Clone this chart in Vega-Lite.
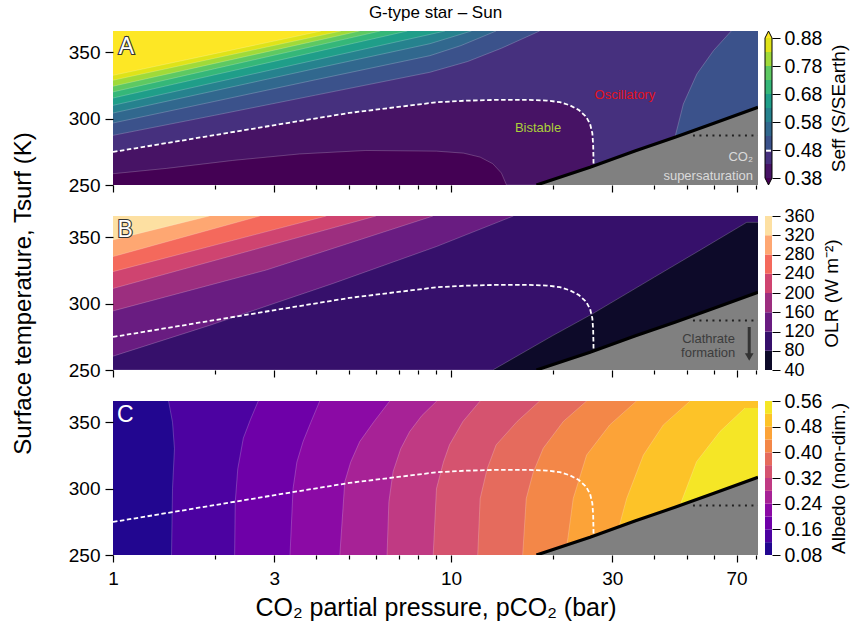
{
"$schema": "https://vega.github.io/schema/vega-lite/v6.json",
"padding": {"left": 11, "top": 4, "right": 5, "bottom": 5},
"background": "white",
"config": {
  "font": "Liberation Sans",
  "view": {"stroke": null},
  "axis": {"grid": false, "domain": false, "labelColor": "black", "titleColor": "black", "tickColor": "black", "labelFont": "Liberation Sans", "titleFont": "Liberation Sans", "titleFontWeight": "normal"},
  "title": {"font": "Liberation Sans", "fontWeight": "normal", "color": "black"}
},
"datasets": {
  "isoA": [
    {"lev":0.33,"p":1,"T":250},{"lev":0.33,"p":81,"T":250},
    {"lev":0.38,"p":1,"T":258.5},{"lev":0.38,"p":1.44,"T":262.5},{"lev":0.38,"p":2.26,"T":268.5},{"lev":0.38,"p":3.57,"T":273.4},{"lev":0.38,"p":5.6,"T":276},{"lev":0.38,"p":9.06,"T":275.5},{"lev":0.38,"p":10.9,"T":274},{"lev":0.38,"p":12.2,"T":271},{"lev":0.38,"p":13.3,"T":266},{"lev":0.38,"p":14.1,"T":259},{"lev":0.38,"p":14.6,"T":250},{"lev":0.38,"p":81,"T":250},
    {"lev":0.43,"p":1,"T":274.9},{"lev":0.43,"p":1.5,"T":282.3},{"lev":0.43,"p":2,"T":287.6},{"lev":0.43,"p":3.16,"T":296},{"lev":0.43,"p":5,"T":304.3},{"lev":0.43,"p":7.08,"T":309},{"lev":0.43,"p":9.06,"T":312.3},{"lev":0.43,"p":11,"T":313.5},{"lev":0.43,"p":13.6,"T":314.1},{"lev":0.43,"p":17,"T":314.1},{"lev":0.43,"p":19.2,"T":313.6},{"lev":0.43,"p":21,"T":312.4},{"lev":0.43,"p":22.5,"T":310},{"lev":0.43,"p":23.9,"T":306.5},{"lev":0.43,"p":25.1,"T":301.5},{"lev":0.43,"p":25.8,"T":296},{"lev":0.43,"p":26.2,"T":289},{"lev":0.43,"p":26.35,"T":280},{"lev":0.43,"p":26.4,"T":270},{"lev":0.43,"p":26.45,"T":250},{"lev":0.43,"p":81,"T":250},
    {"lev":0.48,"p":1,"T":287.4},{"lev":0.48,"p":2,"T":302.5},{"lev":0.48,"p":3.98,"T":317.7},{"lev":0.48,"p":8.66,"T":334.9},{"lev":0.48,"p":11.2,"T":343},{"lev":0.48,"p":14.1,"T":353},{"lev":0.48,"p":18.3,"T":366},
    {"lev":0.53,"p":1,"T":296.7},{"lev":0.53,"p":2,"T":313},{"lev":0.53,"p":3.98,"T":329.3},{"lev":0.53,"p":8.66,"T":347.4},{"lev":0.53,"p":10.7,"T":355},{"lev":0.53,"p":13.6,"T":366},
    {"lev":0.58,"p":1,"T":304.2},{"lev":0.58,"p":2,"T":321},{"lev":0.58,"p":3.98,"T":337.8},{"lev":0.58,"p":8.66,"T":356.4},{"lev":0.58,"p":11.5,"T":366},
    {"lev":0.63,"p":1,"T":310},{"lev":0.63,"p":2,"T":327.2},{"lev":0.63,"p":3.98,"T":344.2},{"lev":0.63,"p":8.66,"T":363.4},{"lev":0.63,"p":9.6,"T":366},
    {"lev":0.68,"p":1,"T":315.5},{"lev":0.68,"p":2,"T":333},{"lev":0.68,"p":4,"T":350.4},{"lev":0.68,"p":7.43,"T":366},
    {"lev":0.73,"p":1,"T":320.1},{"lev":0.73,"p":2,"T":337.6},{"lev":0.73,"p":4,"T":355},{"lev":0.73,"p":6.18,"T":366},
    {"lev":0.78,"p":1,"T":324.4},{"lev":0.78,"p":2,"T":341.6},{"lev":0.78,"p":4,"T":358.7},{"lev":0.78,"p":5.37,"T":366},
    {"lev":0.83,"p":1,"T":328.9},{"lev":0.83,"p":2,"T":345.5},{"lev":0.83,"p":4.73,"T":366},
    {"lev":0.88,"p":1,"T":332.6},{"lev":0.88,"p":2,"T":348.9},{"lev":0.88,"p":4.13,"T":366}
  ],
  "isoAR": [
    {"lev":0.48,"T":250,"p":43},{"lev":0.48,"T":270,"p":44.5},{"lev":0.48,"T":285.9,"p":46},{"lev":0.48,"T":311,"p":48.7},{"lev":0.48,"T":333.6,"p":53.4},{"lev":0.48,"T":351.2,"p":59.8},{"lev":0.48,"T":366,"p":67.5}
  ],
  "isoB": [
    {"lev":40,"p":1,"T":250},{"lev":40,"p":81,"T":250},
    {"lev":80,"p":1,"T":250},{"lev":80,"p":13.3,"T":250},{"lev":80,"p":20,"T":275.9},{"lev":80,"p":26.3,"T":292.5},{"lev":80,"p":40,"T":320},{"lev":80,"p":55,"T":340.8},{"lev":80,"p":75,"T":361.2},{"lev":80,"p":81,"T":361.2},
    {"lev":120,"p":1,"T":260.4},{"lev":120,"p":1.93,"T":283.6},{"lev":120,"p":4.48,"T":315.2},{"lev":120,"p":9.06,"T":343},{"lev":120,"p":15.3,"T":366},
    {"lev":160,"p":1,"T":294.5},{"lev":160,"p":2.84,"T":325.3},{"lev":160,"p":8.85,"T":366},
    {"lev":200,"p":1,"T":311.4},{"lev":200,"p":6,"T":366},
    {"lev":240,"p":1,"T":324.1},{"lev":240,"p":4.28,"T":366},
    {"lev":280,"p":1,"T":335.4},{"lev":280,"p":2.72,"T":366},
    {"lev":320,"p":1,"T":348},{"lev":320,"p":1.93,"T":366}
  ],
  "isoC": [
    {"lev":0.08,"T":250,"p":1},{"lev":0.08,"T":366,"p":1},
    {"lev":0.12,"T":250,"p":1.49},{"lev":0.12,"T":300,"p":1.5},{"lev":0.12,"T":330,"p":1.52},{"lev":0.12,"T":350,"p":1.5},{"lev":0.12,"T":366,"p":1.46},
    {"lev":0.16,"T":250,"p":2.29},{"lev":0.16,"T":290,"p":2.3},{"lev":0.16,"T":315,"p":2.34},{"lev":0.16,"T":338,"p":2.43},{"lev":0.16,"T":352,"p":2.55},{"lev":0.16,"T":366,"p":2.69},
    {"lev":0.2,"T":250,"p":3.34},{"lev":0.2,"T":300,"p":3.41},{"lev":0.2,"T":320,"p":3.5},{"lev":0.2,"T":335.4,"p":3.65},{"lev":0.2,"T":350,"p":3.85},{"lev":0.2,"T":366,"p":4.09},
    {"lev":0.24,"T":250,"p":4.69},{"lev":0.24,"T":305,"p":4.85},{"lev":0.24,"T":320,"p":5.05},{"lev":0.24,"T":335.4,"p":5.37},{"lev":0.24,"T":350,"p":5.9},{"lev":0.24,"T":366,"p":6.59},
    {"lev":0.28,"T":250,"p":6.47},{"lev":0.28,"T":290,"p":6.55},{"lev":0.28,"T":312.7,"p":6.74},{"lev":0.28,"T":330,"p":7.1},{"lev":0.28,"T":343,"p":7.55},{"lev":0.28,"T":355,"p":8.2},{"lev":0.28,"T":366,"p":9.08},
    {"lev":0.32,"T":250,"p":8.86},{"lev":0.32,"T":300,"p":9.06},{"lev":0.32,"T":320,"p":9.5},{"lev":0.32,"T":333,"p":9.9},{"lev":0.32,"T":350.6,"p":10.85},{"lev":0.32,"T":366,"p":12.2},
    {"lev":0.36,"T":250,"p":12},{"lev":0.36,"T":292.5,"p":12.2},{"lev":0.36,"T":315,"p":12.8},{"lev":0.36,"T":332.9,"p":13.6},{"lev":0.36,"T":350.6,"p":15.7},{"lev":0.36,"T":366,"p":18.3},
    {"lev":0.4,"T":250,"p":16.3},{"lev":0.4,"T":292.5,"p":16.7},{"lev":0.4,"T":312,"p":17.5},{"lev":0.4,"T":330.4,"p":18.75},{"lev":0.4,"T":350.6,"p":21.5},{"lev":0.4,"T":366,"p":25.2},
    {"lev":0.44,"T":250,"p":21.8},{"lev":0.44,"T":263.4,"p":22.2},{"lev":0.44,"T":292.5,"p":23},{"lev":0.44,"T":325.3,"p":25.2},{"lev":0.44,"T":348,"p":29.5},{"lev":0.44,"T":366,"p":35.4},
    {"lev":0.48,"T":250,"p":30.5},{"lev":0.48,"T":273.5,"p":31.6},{"lev":0.48,"T":292.5,"p":33.1},{"lev":0.48,"T":325.3,"p":37.1},{"lev":0.48,"T":348,"p":42.5},{"lev":0.48,"T":366,"p":51},
    {"lev":0.52,"T":250,"p":45},{"lev":0.52,"T":287.4,"p":47.6},{"lev":0.52,"T":320.3,"p":53.3},{"lev":0.52,"T":343,"p":62.5},{"lev":0.52,"T":360.7,"p":74.1}
  ],
  "sat": [{"p":17.9,"T":250},{"p":25.8,"T":263.3},{"p":35,"T":275.6},{"p":46,"T":285.9},{"p":60,"T":296.5},{"p":81,"T":308.5}],
  "dot": [{"p":52,"T":287.3},{"p":81,"T":287.3}],
  "dash": [{"p":1,"T":274.9},{"p":1.5,"T":282.3},{"p":2,"T":287.6},{"p":3.16,"T":296},{"p":5,"T":304.3},{"p":7.08,"T":309},{"p":9.06,"T":312.3},{"p":11,"T":313.5},{"p":13.6,"T":314.1},{"p":17,"T":314.1},{"p":19.2,"T":313.6},{"p":21,"T":312.4},{"p":22.5,"T":310},{"p":23.9,"T":306.5},{"p":25.1,"T":301.5},{"p":25.8,"T":296},{"p":26.2,"T":289},{"p":26.35,"T":280},{"p":26.4,"T":270},{"p":26.42,"T":264.5}],
  "notes": [
    {"label":"Bistable","p":18.1,"T":292.9},
    {"label":"Oscillatory","p":32.7,"T":318},
    {"label":"CO₂","p":78.3,"T":270.9},
    {"label":"supersaturation","p":78.3,"T":257},
    {"label":"Clathrate","p":69.2,"T":273.5},
    {"label":"formation","p":69.4,"T":262.9},
    {"label":"A","p":1.096,"T":353.7},
    {"label":"B","p":1.087,"T":355.4},
    {"label":"C","p":1.087,"T":355.8}
  ],
  "arrow": [{"p":76.3,"T":282.4,"T2":261}],
  "arrowhead": [{"p":76.3,"T":259.8}],
  "cbA": [{"lev":0.38,"v":0.38,"v2":0.43},{"lev":0.43,"v":0.43,"v2":0.48},{"lev":0.48,"v":0.48,"v2":0.53},{"lev":0.53,"v":0.53,"v2":0.58},{"lev":0.58,"v":0.58,"v2":0.63},{"lev":0.63,"v":0.63,"v2":0.68},{"lev":0.68,"v":0.68,"v2":0.73},{"lev":0.73,"v":0.73,"v2":0.78},{"lev":0.78,"v":0.78,"v2":0.83},{"lev":0.83,"v":0.83,"v2":0.88}],
  "cbAtri": [{"lev":0.33,"cx":0,"v":0.38,"v2":0.38},{"lev":0.33,"cx":0.5,"v":0.355,"v2":0.38},{"lev":0.33,"cx":1,"v":0.38,"v2":0.38},{"lev":0.88,"cx":0,"v":0.88,"v2":0.88},{"lev":0.88,"cx":0.5,"v":0.905,"v2":0.88},{"lev":0.88,"cx":1,"v":0.88,"v2":0.88}],
  "cbAout": [{"i":0,"cx":0,"v":0.38},{"i":1,"cx":0,"v":0.88},{"i":2,"cx":0.5,"v":0.905},{"i":3,"cx":1,"v":0.88},{"i":4,"cx":1,"v":0.38},{"i":5,"cx":0.5,"v":0.355},{"i":6,"cx":0,"v":0.38}],
  "cbB": [{"lev":40,"v":40,"v2":80},{"lev":80,"v":80,"v2":120},{"lev":120,"v":120,"v2":160},{"lev":160,"v":160,"v2":200},{"lev":200,"v":200,"v2":240},{"lev":240,"v":240,"v2":280},{"lev":280,"v":280,"v2":320},{"lev":320,"v":320,"v2":360}],
  "cbC": [{"lev":0.08,"v":0.08,"v2":0.12},{"lev":0.12,"v":0.12,"v2":0.16},{"lev":0.16,"v":0.16,"v2":0.2},{"lev":0.2,"v":0.2,"v2":0.24},{"lev":0.24,"v":0.24,"v2":0.28},{"lev":0.28,"v":0.28,"v2":0.32},{"lev":0.32,"v":0.32,"v2":0.36},{"lev":0.36,"v":0.36,"v2":0.4},{"lev":0.4,"v":0.4,"v2":0.44},{"lev":0.44,"v":0.44,"v2":0.48},{"lev":0.48,"v":0.48,"v2":0.52},{"lev":0.52,"v":0.52,"v2":0.56}]
},
"columns": 2,
"spacing": {"row": 31, "column": 7},
"bounds": "flush",
"resolve": {"scale": {"x": "independent", "y": "independent", "color": "independent"}},
"concat": [
  {"width": 645, "height": 154,
   "title": {"text": "G-type star – Sun", "fontSize": 17, "offset": 9},
   "encoding": {
     "x": {"field": "p", "type": "quantitative", "stack": null, "scale": {"type": "log", "domain": [1, 81], "nice": false},
           "axis": {"values": [1,2,3,4,5,6,7,8,9,10,20,30,40,50,60,70,80], "labels": false, "title": null, "tickWidth": 1.2, "tickSize": {"condition": {"test": "datum.value==1||datum.value==3||datum.value==10||datum.value==30||datum.value==70", "value": 7}, "value": 4}, "zindex": 1}},
     "y": {"field": "T", "type": "quantitative", "stack": null, "scale": {"domain": [250, 366], "nice": false, "zero": false},
           "axis": {"values": [250,300,350], "tickSize": 8, "tickWidth": 1.2, "labelFontSize": 19, "labelPadding": 5, "title": null, "zindex": 1}},
     "color": {"field": "lev", "type": "ordinal", "legend": null, "scale": {"domain": [0.33,0.38,0.43,0.48,0.53,0.58,0.63,0.68,0.73,0.78,0.83,0.88], "range": ["#440154","#471365","#46307e","#3b528b","#31688e","#26828e","#1f9e89","#35b779","#5ec962","#a0da39","#dfe318","#fde725"]}}
   },
   "layer": [
     {"data":{"name":"isoA"},"transform":[{"filter":"datum.lev==0.33"}],"mark":{"type":"area","clip":true},"encoding":{"y2":{"datum":366}}},
     {"data":{"name":"isoA"},"transform":[{"filter":"datum.lev==0.38"}],"mark":{"type":"area","clip":true},"encoding":{"y2":{"datum":366}}},
     {"data":{"name":"isoA"},"transform":[{"filter":"datum.lev==0.43"}],"mark":{"type":"area","clip":true},"encoding":{"y2":{"datum":366}}},
     {"data":{"name":"isoA"},"transform":[{"filter":"datum.lev==0.48"}],"mark":{"type":"area","clip":true},"encoding":{"y2":{"datum":366}}},
     {"data":{"name":"isoAR"},"mark":{"type":"area","orient":"horizontal","clip":true},"encoding":{"x2":{"datum":81}}},
     {"data":{"name":"isoA"},"transform":[{"filter":"datum.lev==0.53"}],"mark":{"type":"area","clip":true},"encoding":{"y2":{"datum":366}}},
     {"data":{"name":"isoA"},"transform":[{"filter":"datum.lev==0.58"}],"mark":{"type":"area","clip":true},"encoding":{"y2":{"datum":366}}},
     {"data":{"name":"isoA"},"transform":[{"filter":"datum.lev==0.63"}],"mark":{"type":"area","clip":true},"encoding":{"y2":{"datum":366}}},
     {"data":{"name":"isoA"},"transform":[{"filter":"datum.lev==0.68"}],"mark":{"type":"area","clip":true},"encoding":{"y2":{"datum":366}}},
     {"data":{"name":"isoA"},"transform":[{"filter":"datum.lev==0.73"}],"mark":{"type":"area","clip":true},"encoding":{"y2":{"datum":366}}},
     {"data":{"name":"isoA"},"transform":[{"filter":"datum.lev==0.78"}],"mark":{"type":"area","clip":true},"encoding":{"y2":{"datum":366}}},
     {"data":{"name":"isoA"},"transform":[{"filter":"datum.lev==0.83"}],"mark":{"type":"area","clip":true},"encoding":{"y2":{"datum":366}}},
     {"data":{"name":"isoA"},"transform":[{"filter":"datum.lev==0.88"}],"mark":{"type":"area","clip":true},"encoding":{"y2":{"datum":366}}},
     {"data":{"name":"isoA"},"transform":[{"filter":"datum.lev>0.34 && datum.lev!=0.43"}],"mark":{"type":"line","strokeWidth":0.7,"opacity":0.3,"clip":true},"encoding":{"detail":{"field":"lev"},"color":{"value":"white"}}},
     {"data":{"name":"isoAR"},"mark":{"type":"line","strokeWidth":0.7,"opacity":0.3,"clip":true},"encoding":{"order":{"field":"T"},"color":{"value":"white"}}},
     {"data":{"name":"sat"},"mark":{"type":"area","clip":true},"encoding":{"y2":{"datum":250},"color":{"value":"#808080"}}},
     {"data":{"name":"dot"},"mark":{"type":"line","strokeWidth":2,"strokeDash":[2,4.5],"clip":true},"encoding":{"color":{"value":"#222222"}}},
     {"data":{"name":"dash"},"mark":{"type":"line","strokeWidth":1.8,"strokeDash":[4.5,2.5],"clip":true},"encoding":{"color":{"value":"white"}}},
     {"data":{"name":"sat"},"mark":{"type":"line","strokeWidth":3.2,"clip":true},"encoding":{"color":{"value":"black"}}},
     {"data":{"name":"notes"},"transform":[{"filter":"datum.label=='Bistable'"}],"mark":{"type":"text","fontSize":13},"encoding":{"text":{"field":"label"},"color":{"value":"#acd03a"}}},
     {"data":{"name":"notes"},"transform":[{"filter":"datum.label=='Oscillatory'"}],"mark":{"type":"text","fontSize":13},"encoding":{"text":{"field":"label"},"color":{"value":"#e3121b"}}},
     {"data":{"name":"notes"},"transform":[{"filter":"datum.label=='CO₂'||datum.label=='supersaturation'"}],"mark":{"type":"text","fontSize":13,"align":"right"},"encoding":{"text":{"field":"label"},"color":{"value":"#dadada"}}},
     {"data":{"name":"notes"},"transform":[{"filter":"datum.label=='A'"}],"mark":{"type":"text","fontSize":23,"stroke":"#333333","strokeWidth":2.2,"align":"center","baseline":"middle"},"encoding":{"text":{"field":"label"},"color":{"value":"#333333"}}},
     {"data":{"name":"notes"},"transform":[{"filter":"datum.label=='A'"}],"mark":{"type":"text","fontSize":23,"align":"center","baseline":"middle"},"encoding":{"text":{"field":"label"},"color":{"value":"white"}}},
     {"data":{"values":[{}]},"mark":{"type":"rect","filled":false,"strokeWidth":1.6},"encoding":{"x":{"datum":1},"x2":{"datum":81},"y":{"datum":250},"y2":{"datum":366},"color":{"value":"black"}}}
   ]},
  {"width": 7, "height": 154,
   "encoding": {
     "y": {"field": "v", "type": "quantitative", "stack": null, "scale": {"domain": [0.355, 0.905], "nice": false, "zero": false},
           "axis": {"orient": "right", "values": [0.38,0.48,0.58,0.68,0.78,0.88], "format": ".2f", "tickSize": 8, "tickWidth": 1, "labelFontSize": 19.5, "labelPadding": 4, "labelOverlap": false, "title": "Seff (S/SEarth)", "titleFontSize": 19, "titleAngle": 270, "titleBaseline": "top", "titlePadding": 8}},
     "color": {"field": "lev", "type": "ordinal", "legend": null, "scale": {"domain": [0.33,0.38,0.43,0.48,0.53,0.58,0.63,0.68,0.73,0.78,0.83,0.88], "range": ["#440154","#471365","#46307e","#3b528b","#31688e","#26828e","#1f9e89","#35b779","#5ec962","#a0da39","#dfe318","#fde725"]}}
   },
   "layer": [
     {"data":{"name":"cbA"},"mark":"rect","encoding":{"x":{"datum":0,"type":"quantitative","scale":{"domain":[0,1]},"axis":null},"x2":{"datum":1},"y2":{"field":"v2"}}},
     {"data":{"name":"cbAtri"},"mark":"area","encoding":{"x":{"field":"cx","type":"quantitative","scale":{"domain":[0,1]},"axis":null},"y2":{"field":"v2"}}},
     {"data":{"values":[{"v":0.4775}]},"mark":{"type":"rule","strokeWidth":2},"encoding":{"x":{"datum":0.15,"type":"quantitative","scale":{"domain":[0,1]},"axis":null},"x2":{"datum":0.85},"color":{"value":"white"}}},
     {"data":{"name":"cbAout"},"mark":{"type":"line","strokeWidth":1},"encoding":{"x":{"field":"cx","type":"quantitative","scale":{"domain":[0,1]},"axis":null},"order":{"field":"i"},"color":{"value":"black"}}}
   ]},
  {"width": 645, "height": 154,
   "encoding": {
     "x": {"field": "p", "type": "quantitative", "stack": null, "scale": {"type": "log", "domain": [1, 81], "nice": false},
           "axis": {"values": [1,2,3,4,5,6,7,8,9,10,20,30,40,50,60,70,80], "labels": false, "title": null, "tickWidth": 1.2, "tickSize": {"condition": {"test": "datum.value==1||datum.value==3||datum.value==10||datum.value==30||datum.value==70", "value": 7}, "value": 4}, "zindex": 1}},
     "y": {"field": "T", "type": "quantitative", "stack": null, "scale": {"domain": [250, 366], "nice": false, "zero": false},
           "axis": {"values": [250,300,350], "tickSize": 8, "tickWidth": 1.2, "labelFontSize": 19, "labelPadding": 5, "title": "Surface temperature, Tsurf (K)", "titleFontSize": 24, "titlePadding": 33, "zindex": 1}},
     "color": {"field": "lev", "type": "ordinal", "legend": null, "scale": {"domain": [40,80,120,160,200,240,280,320], "range": ["#0d0a29","#36106b","#691c81","#9c2e7f","#cf4470","#f4695c","#fea772","#fde0a2"]}}
   },
   "layer": [
     {"data":{"name":"isoB"},"transform":[{"filter":"datum.lev==40"}],"mark":{"type":"area","clip":true},"encoding":{"y2":{"datum":366}}},
     {"data":{"name":"isoB"},"transform":[{"filter":"datum.lev==80"}],"mark":{"type":"area","clip":true},"encoding":{"y2":{"datum":366}}},
     {"data":{"name":"isoB"},"transform":[{"filter":"datum.lev==120"}],"mark":{"type":"area","clip":true},"encoding":{"y2":{"datum":366}}},
     {"data":{"name":"isoB"},"transform":[{"filter":"datum.lev==160"}],"mark":{"type":"area","clip":true},"encoding":{"y2":{"datum":366}}},
     {"data":{"name":"isoB"},"transform":[{"filter":"datum.lev==200"}],"mark":{"type":"area","clip":true},"encoding":{"y2":{"datum":366}}},
     {"data":{"name":"isoB"},"transform":[{"filter":"datum.lev==240"}],"mark":{"type":"area","clip":true},"encoding":{"y2":{"datum":366}}},
     {"data":{"name":"isoB"},"transform":[{"filter":"datum.lev==280"}],"mark":{"type":"area","clip":true},"encoding":{"y2":{"datum":366}}},
     {"data":{"name":"isoB"},"transform":[{"filter":"datum.lev==320"}],"mark":{"type":"area","clip":true},"encoding":{"y2":{"datum":366}}},
     {"data":{"name":"isoB"},"transform":[{"filter":"datum.lev>40"}],"mark":{"type":"line","strokeWidth":0.7,"opacity":0.3,"clip":true},"encoding":{"detail":{"field":"lev"},"color":{"value":"white"}}},
     {"data":{"name":"sat"},"mark":{"type":"area","clip":true},"encoding":{"y2":{"datum":250},"color":{"value":"#808080"}}},
     {"data":{"name":"dot"},"mark":{"type":"line","strokeWidth":2,"strokeDash":[2,4.5],"clip":true},"encoding":{"color":{"value":"#222222"}}},
     {"data":{"name":"dash"},"mark":{"type":"line","strokeWidth":1.8,"strokeDash":[4.5,2.5],"clip":true},"encoding":{"color":{"value":"white"}}},
     {"data":{"name":"sat"},"mark":{"type":"line","strokeWidth":3.2,"clip":true},"encoding":{"color":{"value":"black"}}},
     {"data":{"name":"notes"},"transform":[{"filter":"datum.label=='Clathrate'||datum.label=='formation'"}],"mark":{"type":"text","fontSize":13,"align":"right"},"encoding":{"text":{"field":"label"},"color":{"value":"#3c3c3c"}}},
     {"data":{"name":"arrow"},"mark":{"type":"rule","strokeWidth":3},"encoding":{"y2":{"field":"T2"},"color":{"value":"#333333"}}},
     {"data":{"name":"arrowhead"},"mark":{"type":"point","shape":"triangle-down","filled":true,"size":75,"opacity":1},"encoding":{"color":{"value":"#333333"}}},
     {"data":{"name":"notes"},"transform":[{"filter":"datum.label=='B'"}],"mark":{"type":"text","fontSize":23,"stroke":"#333333","strokeWidth":2.2,"align":"center","baseline":"middle"},"encoding":{"text":{"field":"label"},"color":{"value":"#333333"}}},
     {"data":{"name":"notes"},"transform":[{"filter":"datum.label=='B'"}],"mark":{"type":"text","fontSize":23,"align":"center","baseline":"middle"},"encoding":{"text":{"field":"label"},"color":{"value":"white"}}},
     {"data":{"values":[{}]},"mark":{"type":"rect","filled":false,"strokeWidth":1.6},"encoding":{"x":{"datum":1},"x2":{"datum":81},"y":{"datum":250},"y2":{"datum":366},"color":{"value":"black"}}}
   ]},
  {"width": 7, "height": 154,
   "encoding": {
     "y": {"field": "v", "type": "quantitative", "stack": null, "scale": {"domain": [40, 360], "nice": false, "zero": false},
           "axis": {"orient": "right", "values": [40,80,120,160,200,240,280,320,360], "format": "d", "tickSize": 8, "tickWidth": 1, "labelFontSize": 18, "labelPadding": 4, "labelOverlap": false, "title": "OLR (W m⁻²)", "titleFontSize": 19, "titleAngle": 270, "titleBaseline": "top", "titlePadding": 8}},
     "color": {"field": "lev", "type": "ordinal", "legend": null, "scale": {"domain": [40,80,120,160,200,240,280,320], "range": ["#0d0a29","#36106b","#691c81","#9c2e7f","#cf4470","#f4695c","#fea772","#fde0a2"]}}
   },
   "layer": [
     {"data":{"name":"cbB"},"mark":"rect","encoding":{"x":{"datum":0,"type":"quantitative","scale":{"domain":[0,1]},"axis":null},"x2":{"datum":1},"y2":{"field":"v2"}}},
     {"data":{"values":[{}]},"mark":{"type":"rect","filled":false,"strokeWidth":1},"encoding":{"x":{"datum":0,"type":"quantitative","scale":{"domain":[0,1]},"axis":null},"x2":{"datum":1},"y":{"datum":40},"y2":{"datum":360},"color":{"value":"black"}}}
   ]},
  {"width": 645, "height": 154,
   "encoding": {
     "x": {"field": "p", "type": "quantitative", "stack": null, "scale": {"type": "log", "domain": [1, 81], "nice": false},
           "axis": {"values": [1,2,3,4,5,6,7,8,9,10,20,30,40,50,60,70,80], "format": "d", "labelExpr": "(datum.value==1||datum.value==3||datum.value==10||datum.value==30||datum.value==70) ? datum.label : ''", "labelFontSize": 19, "labelPadding": 7, "labelFlush": false, "labelOverlap": false, "title": "CO₂ partial pressure, pCO₂ (bar)", "titleFontSize": 25, "titlePadding": 7, "tickWidth": 1.2, "tickSize": {"condition": {"test": "datum.value==1||datum.value==3||datum.value==10||datum.value==30||datum.value==70", "value": 7}, "value": 4}, "zindex": 1}},
     "y": {"field": "T", "type": "quantitative", "stack": null, "scale": {"domain": [250, 366], "nice": false, "zero": false},
           "axis": {"values": [250,300,350], "tickSize": 8, "tickWidth": 1.2, "labelFontSize": 19, "labelPadding": 5, "title": null, "zindex": 1}},
     "color": {"field": "lev", "type": "ordinal", "legend": null, "scale": {"domain": [0.08,0.12,0.16,0.2,0.24,0.28,0.32,0.36,0.4,0.44,0.48,0.52], "range": ["#220690","#4c02a1","#6e00a8","#8b0aa5","#a72296","#c03a83","#d5536f","#e56b5d","#f38748","#fca338","#fdc328","#f5e626"]}}
   },
   "layer": [
     {"data":{"name":"isoC"},"transform":[{"filter":"datum.lev==0.08"}],"mark":{"type":"area","orient":"horizontal","clip":true},"encoding":{"x2":{"datum":81}}},
     {"data":{"name":"isoC"},"transform":[{"filter":"datum.lev==0.12"}],"mark":{"type":"area","orient":"horizontal","clip":true},"encoding":{"x2":{"datum":81}}},
     {"data":{"name":"isoC"},"transform":[{"filter":"datum.lev==0.16"}],"mark":{"type":"area","orient":"horizontal","clip":true},"encoding":{"x2":{"datum":81}}},
     {"data":{"name":"isoC"},"transform":[{"filter":"datum.lev==0.2"}],"mark":{"type":"area","orient":"horizontal","clip":true},"encoding":{"x2":{"datum":81}}},
     {"data":{"name":"isoC"},"transform":[{"filter":"datum.lev==0.24"}],"mark":{"type":"area","orient":"horizontal","clip":true},"encoding":{"x2":{"datum":81}}},
     {"data":{"name":"isoC"},"transform":[{"filter":"datum.lev==0.28"}],"mark":{"type":"area","orient":"horizontal","clip":true},"encoding":{"x2":{"datum":81}}},
     {"data":{"name":"isoC"},"transform":[{"filter":"datum.lev==0.32"}],"mark":{"type":"area","orient":"horizontal","clip":true},"encoding":{"x2":{"datum":81}}},
     {"data":{"name":"isoC"},"transform":[{"filter":"datum.lev==0.36"}],"mark":{"type":"area","orient":"horizontal","clip":true},"encoding":{"x2":{"datum":81}}},
     {"data":{"name":"isoC"},"transform":[{"filter":"datum.lev==0.4"}],"mark":{"type":"area","orient":"horizontal","clip":true},"encoding":{"x2":{"datum":81}}},
     {"data":{"name":"isoC"},"transform":[{"filter":"datum.lev==0.44"}],"mark":{"type":"area","orient":"horizontal","clip":true},"encoding":{"x2":{"datum":81}}},
     {"data":{"name":"isoC"},"transform":[{"filter":"datum.lev==0.48"}],"mark":{"type":"area","orient":"horizontal","clip":true},"encoding":{"x2":{"datum":81}}},
     {"data":{"name":"isoC"},"transform":[{"filter":"datum.lev==0.52"}],"mark":{"type":"area","orient":"horizontal","clip":true},"encoding":{"x2":{"datum":81}}},
     {"data":{"name":"isoC"},"transform":[{"filter":"datum.lev>0.09"}],"mark":{"type":"line","strokeWidth":0.7,"opacity":0.3,"clip":true},"encoding":{"detail":{"field":"lev"},"order":{"field":"T"},"color":{"value":"white"}}},
     {"data":{"name":"sat"},"mark":{"type":"area","clip":true},"encoding":{"y2":{"datum":250},"color":{"value":"#808080"}}},
     {"data":{"name":"dot"},"mark":{"type":"line","strokeWidth":2,"strokeDash":[2,4.5],"clip":true},"encoding":{"color":{"value":"#222222"}}},
     {"data":{"name":"dash"},"mark":{"type":"line","strokeWidth":1.8,"strokeDash":[4.5,2.5],"clip":true},"encoding":{"color":{"value":"white"}}},
     {"data":{"name":"sat"},"mark":{"type":"line","strokeWidth":3.2,"clip":true},"encoding":{"color":{"value":"black"}}},
     {"data":{"name":"notes"},"transform":[{"filter":"datum.label=='C'"}],"mark":{"type":"text","fontSize":23,"align":"center","baseline":"middle"},"encoding":{"text":{"field":"label"},"color":{"value":"white"}}},
     {"data":{"values":[{}]},"mark":{"type":"rect","filled":false,"strokeWidth":1.6},"encoding":{"x":{"datum":1},"x2":{"datum":81},"y":{"datum":250},"y2":{"datum":366},"color":{"value":"black"}}}
   ]},
  {"width": 7, "height": 154,
   "encoding": {
     "y": {"field": "v", "type": "quantitative", "stack": null, "scale": {"domain": [0.08, 0.56], "nice": false, "zero": false},
           "axis": {"orient": "right", "values": [0.08,0.16,0.24,0.32,0.4,0.48,0.56], "format": ".2f", "tickSize": 8, "tickWidth": 1, "labelFontSize": 19.5, "labelPadding": 4, "labelOverlap": false, "title": "Albedo (non-dim.)", "titleFontSize": 19, "titleAngle": 270, "titleBaseline": "top", "titlePadding": 8}},
     "color": {"field": "lev", "type": "ordinal", "legend": null, "scale": {"domain": [0.08,0.12,0.16,0.2,0.24,0.28,0.32,0.36,0.4,0.44,0.48,0.52], "range": ["#220690","#4c02a1","#6e00a8","#8b0aa5","#a72296","#c03a83","#d5536f","#e56b5d","#f38748","#fca338","#fdc328","#f5e626"]}}
   },
   "layer": [
     {"data":{"name":"cbC"},"mark":"rect","encoding":{"x":{"datum":0,"type":"quantitative","scale":{"domain":[0,1]},"axis":null},"x2":{"datum":1},"y2":{"field":"v2"}}},
     {"data":{"values":[{}]},"mark":{"type":"rect","filled":false,"strokeWidth":1},"encoding":{"x":{"datum":0,"type":"quantitative","scale":{"domain":[0,1]},"axis":null},"x2":{"datum":1},"y":{"datum":0.08},"y2":{"datum":0.56},"color":{"value":"black"}}}
   ]}
]
}
